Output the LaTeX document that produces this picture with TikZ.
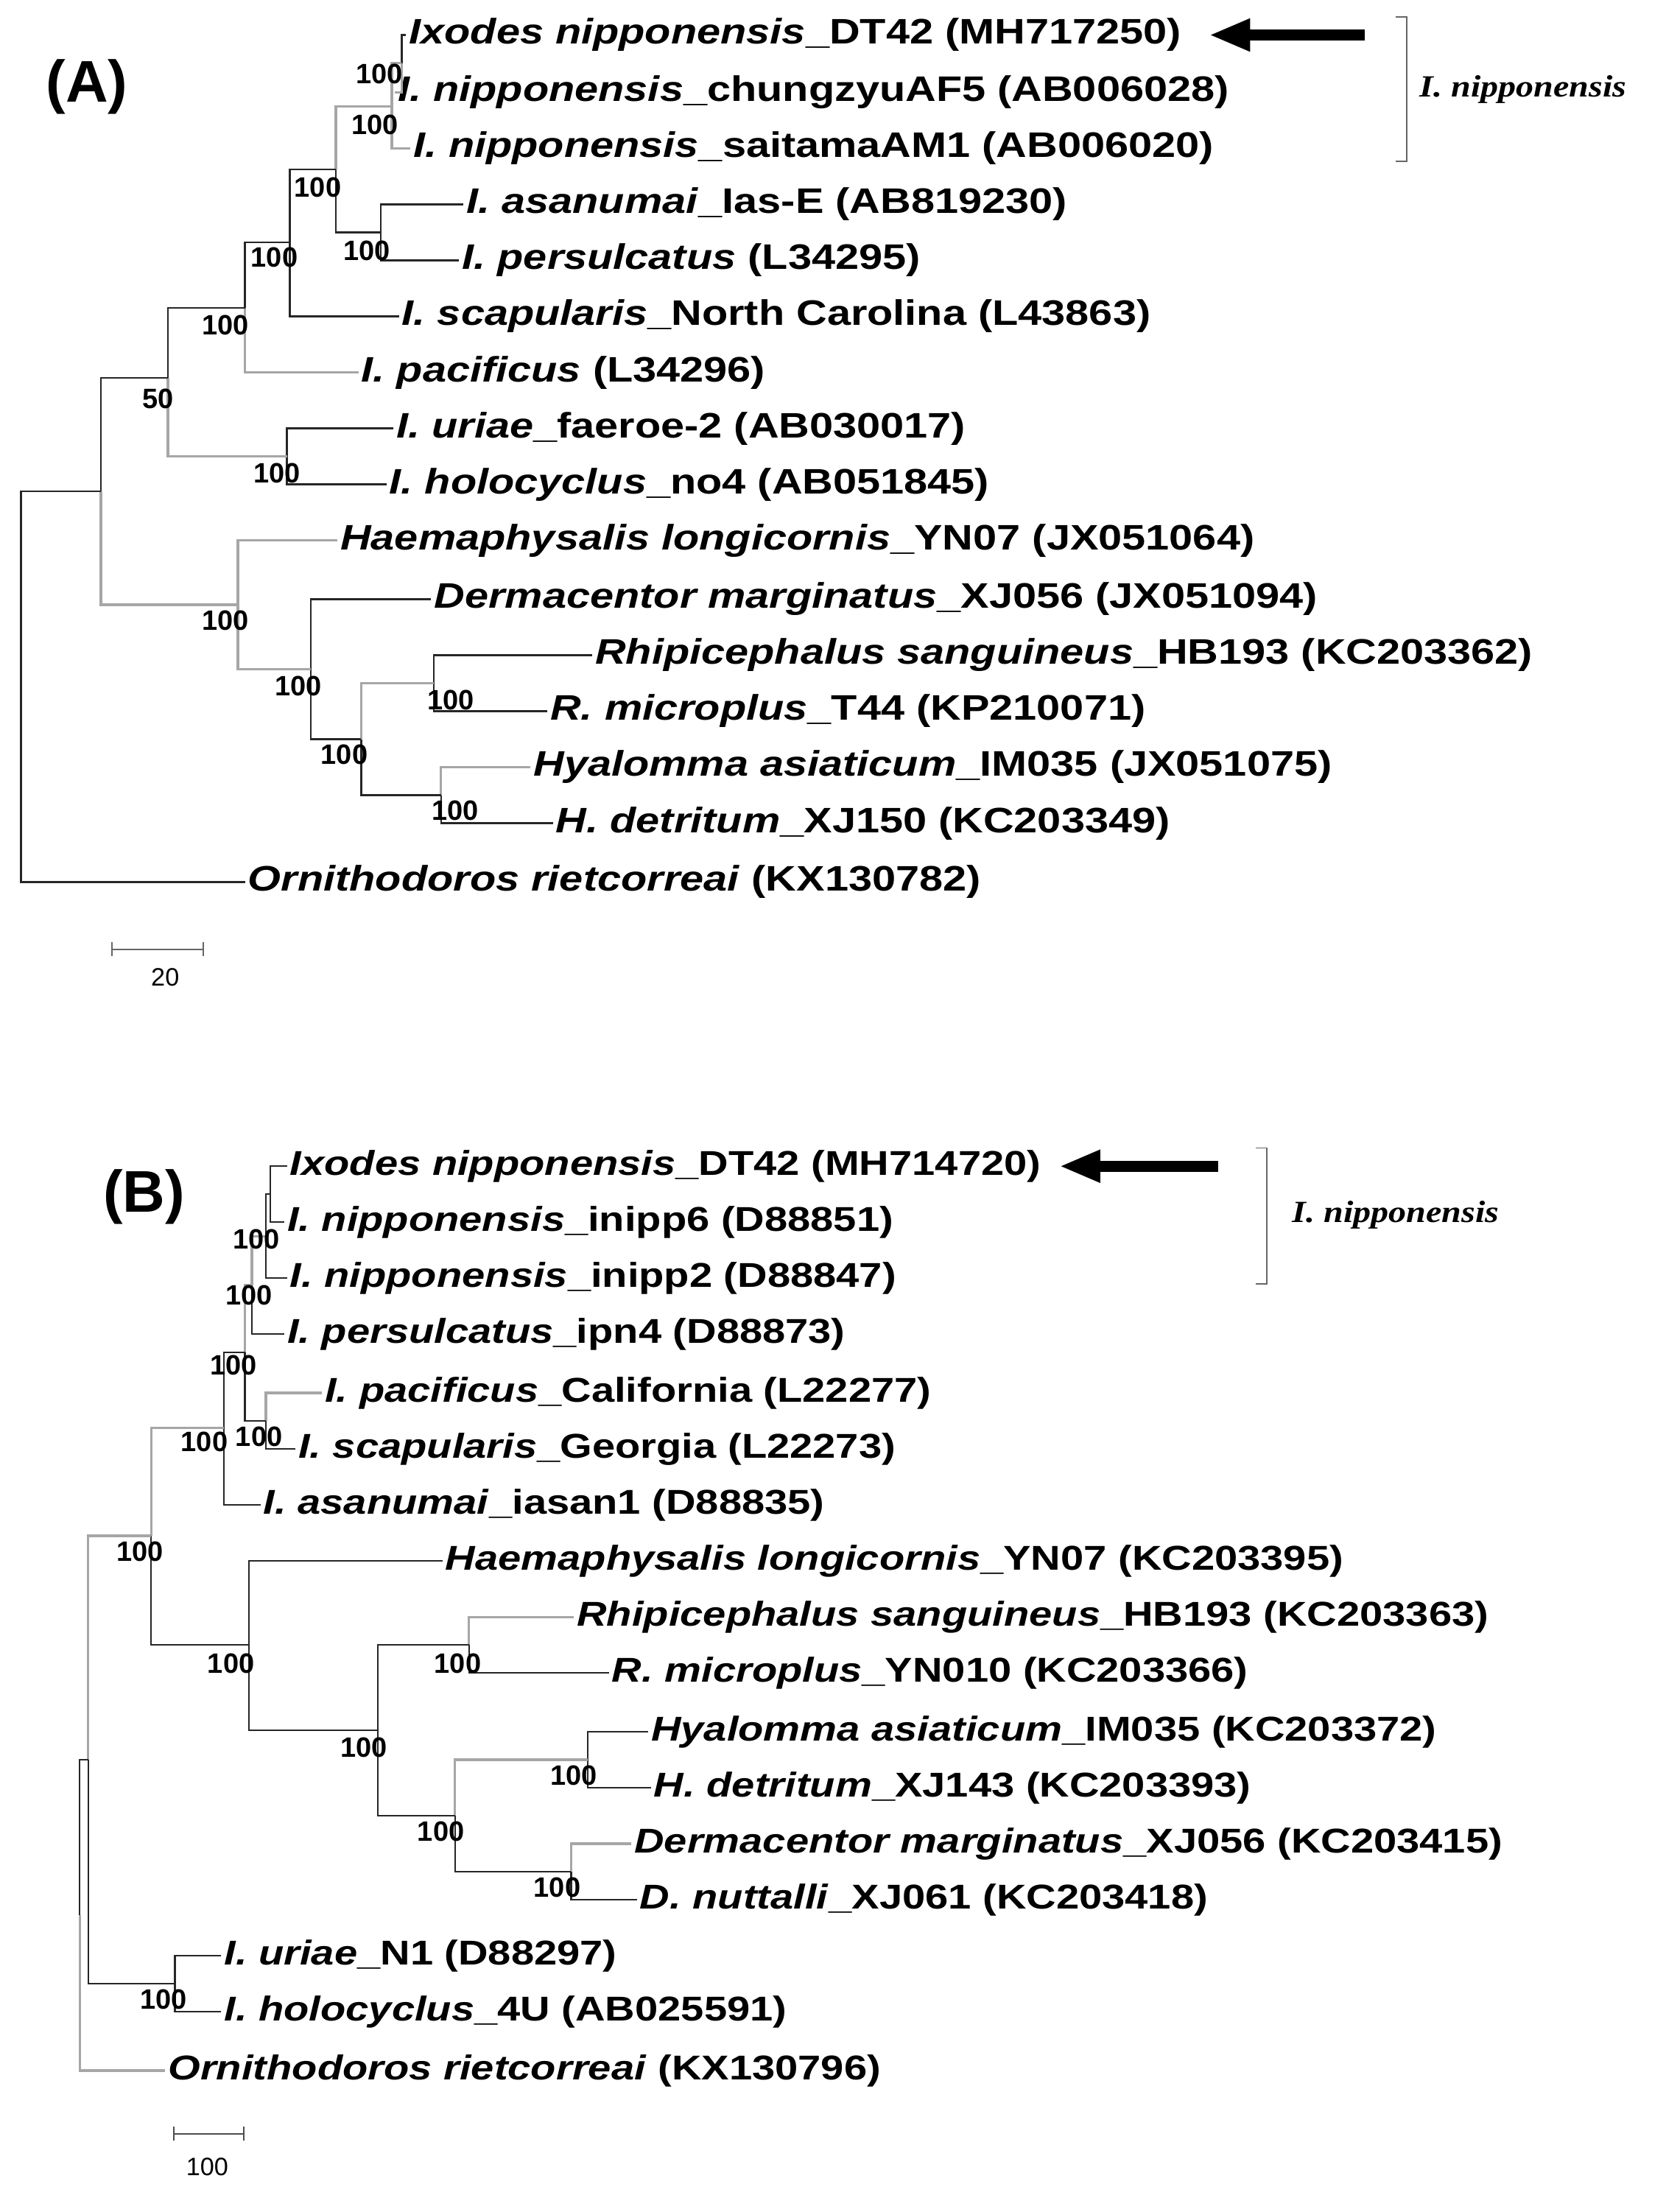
\documentclass[tikz,border=0pt]{standalone}
\usepackage{fontspec}
\setmainfont{Liberation Sans}
\newfontfamily\tipfont{Liberation Sans}[FakeStretch=1.2]
\newfontfamily\serifb{Liberation Serif}[FakeStretch=1.15]
\begin{document}
\begin{tikzpicture}[x=1pt,y=-1pt,
  tip/.style={anchor=west,inner sep=2pt,font=\tipfont\fontsize{25.3}{28}\selectfont\bfseries},
  tipb/.style={anchor=west,inner sep=2pt,font=\tipfont\fontsize{24.6}{27}\selectfont\bfseries},
  bs/.style={inner sep=0pt,font=\fontsize{20}{22}\selectfont\bfseries},
  br/.style={line width=1.2pt,black!85},
  gbr/.style={line width=1.8pt,black!35}]
\useasboundingbox (0,0) rectangle (1190,1580);
\node[font=\fontsize{42}{46}\selectfont\bfseries] (labA) at (62,62) {(A)};
% ---------- Tree A tips
\node[tip] (a1) at (290,25) {\textit{Ixodes nipponensis}\_DT42 (MH717250)};
\node[tip] (a2) at (282,66) {\textit{I. nipponensis}\_chungzyuAF5 (AB006028)};
\node[tip] (a3) at (293,106) {\textit{I. nipponensis}\_saitamaAM1 (AB006020)};
\node[tip] (a4) at (331,146) {\textit{I. asanumai}\_Ias-E (AB819230)};
\node[tip] (a5) at (328,186) {\textit{I. persulcatus} (L34295)};
\node[tip] (a6) at (285,226) {\textit{I. scapularis}\_North Carolina (L43863)};
\node[tip] (a7) at (256,266) {\textit{I. pacificus} (L34296)};
\node[tip] (a8) at (281,306) {\textit{I. uriae}\_faeroe-2 (AB030017)};
\node[tip] (a9) at (276,346) {\textit{I. holocyclus}\_no4 (AB051845)};
\node[tip] (a10) at (241,386) {\textit{Haemaphysalis longicornis}\_YN07 (JX051064)};
\node[tip] (a11) at (308,428) {\textit{Dermacentor marginatus}\_XJ056 (JX051094)};
\node[tip] (a12) at (423,468) {\textit{Rhipicephalus sanguineus}\_HB193 (KC203362)};
\node[tip] (a13) at (391,508) {\textit{R. microplus}\_T44 (KP210071)};
\node[tip] (a14) at (379,548) {\textit{Hyalomma asiaticum}\_IM035 (JX051075)};
\node[tip] (a15) at (395,588) {\textit{H. detritum}\_XJ150 (KC203349)};
\node[tip] (a16) at (175,630) {\textit{Ornithodoros rietcorreai} (KX130782)};
% internal nodes A
\coordinate (nB) at (287,45);
\coordinate (nA) at (280,76);
\coordinate (nD) at (272,166);
\coordinate (nC) at (240,121);
\coordinate (nE) at (207,173);
\coordinate (nF) at (175,220);
\coordinate (nU) at (205,326);
\coordinate (nG) at (120,270);
\coordinate (nL) at (310,488);
\coordinate (nM) at (315,568);
\coordinate (nK) at (258,528);
\coordinate (nJ) at (222,478);
\coordinate (nI) at (170,432);
\coordinate (nH) at (72,351);
\coordinate (rA) at (15,490);
\draw[br] (nB) |- (a1.west); \draw[gbr] (nB) |- (a2.west);
\draw[gbr] (nA) |- (nB); \draw[gbr] (nA) |- (a3.west);
\draw[br] (nD) |- (a4.west); \draw[br] (nD) |- (a5.west);
\draw[gbr] (nC) |- (nA); \draw[br] (nC) |- (nD);
\draw[br] (nE) |- (nC); \draw[br] (nE) |- (a6.west);
\draw[br] (nF) |- (nE); \draw[gbr] (nF) |- (a7.west);
\draw[br] (nU) |- (a8.west); \draw[br] (nU) |- (a9.west);
\draw[br] (nG) |- (nF); \draw[gbr] (nG) |- (nU);
\draw[br] (nL) |- (a12.west); \draw[br] (nL) |- (a13.west);
\draw[gbr] (nM) |- (a14.west); \draw[br] (nM) |- (a15.west);
\draw[gbr] (nK) |- (nL); \draw[br] (nK) |- (nM);
\draw[br] (nJ) |- (a11.west); \draw[br] (nJ) |- (nK);
\draw[gbr] (nI) |- (a10.west); \draw[gbr] (nI) |- (nJ);
\draw[br] (nH) |- (nG); \draw[gbr] (nH) |- (nI);
\draw[br] (rA) |- (nH); \draw[br] (rA) |- (a16.west);
% bootstrap A
\node[bs] (bA1) at (271,53) {100};
\node[bs] (bA2) at (268,89) {100};
\node[bs] (bA3) at (227,134) {100};
\node[bs] (bA4) at (262,179) {100};
\node[bs] (bA5) at (196,184) {100};
\node[bs] (bA6) at (161,232) {100};
\node[bs] (bA7) at (113,285) {50};
\node[bs] (bA8) at (198,338) {100};
\node[bs] (bA9) at (161,443) {100};
\node[bs] (bA10) at (213,490) {100};
\node[bs] (bA11) at (246,539) {100};
\node[bs] (bA12) at (322,500) {100};
\node[bs] (bA13) at (325,579) {100};
% scale A
\coordinate (sa1) at (80,678); \coordinate (sa2) at (145,678);
\draw[black!60,line width=1pt] (sa1) -- (sa2) (80,673) -- (80,683) (145,673) -- (145,683);
\node[font=\fontsize{18}{20}\selectfont] (sA) at (118,698) {20};
% arrow & bracket A
\draw[line width=8pt] (975,25) -- (888,25);
\fill (865,25) -- (893,13) -- (893,37) -- cycle;
\draw[black!60,line width=1pt] (997,12) -- (1005,12) -- (1005,115) -- (997,115);
\node[font=\serifb\fontsize{22}{24}\selectfont\bfseries\itshape] (nipA) at (1088,64) {I. nipponensis};
% ---------- Tree B
\node[font=\fontsize{42}{46}\selectfont\bfseries] (labB) at (103,855) {(B)};
\node[tipb] (b1) at (205,833) {\textit{Ixodes nipponensis}\_DT42 (MH714720)};
\node[tipb] (b2) at (203,873) {\textit{I. nipponensis}\_inipp6 (D88851)};
\node[tipb] (b3) at (205,913) {\textit{I. nipponensis}\_inipp2 (D88847)};
\node[tipb] (b4) at (203,953) {\textit{I. persulcatus}\_ipn4 (D88873)};
\node[tipb] (b5) at (230,995) {\textit{I. pacificus}\_California (L22277)};
\node[tipb] (b6) at (211,1035) {\textit{I. scapularis}\_Georgia (L22273)};
\node[tipb] (b7) at (186,1075) {\textit{I. asanumai}\_iasan1 (D88835)};
\node[tipb] (b8) at (316,1115) {\textit{Haemaphysalis longicornis}\_YN07 (KC203395)};
\node[tipb] (b9) at (410,1155) {\textit{Rhipicephalus sanguineus}\_HB193 (KC203363)};
\node[tipb] (b10) at (435,1195) {\textit{R. microplus}\_YN010 (KC203366)};
\node[tipb] (b11) at (463,1237) {\textit{Hyalomma asiaticum}\_IM035 (KC203372)};
\node[tipb] (b12) at (465,1277) {\textit{H. detritum}\_XJ143 (KC203393)};
\node[tipb] (b13) at (451,1317) {\textit{Dermacentor marginatus}\_XJ056 (KC203415)};
\node[tipb] (b14) at (455,1357) {\textit{D. nuttalli}\_XJ061 (KC203418)};
\node[tipb] (b15) at (158,1397) {\textit{I. uriae}\_N1 (D88297)};
\node[tipb] (b16) at (158,1437) {\textit{I. holocyclus}\_4U (AB025591)};
\node[tipb] (b17) at (118,1479) {\textit{Ornithodoros rietcorreai} (KX130796)};
\coordinate (m1) at (193,853);
\coordinate (m2) at (190,883);
\coordinate (m3) at (180,918);
\coordinate (m4) at (190,1015);
\coordinate (m5) at (175,966);
\coordinate (m6) at (160,1020);
\coordinate (m7) at (335,1175);
\coordinate (m8) at (420,1257);
\coordinate (m9) at (408,1337);
\coordinate (m10) at (325,1297);
\coordinate (m11) at (270,1236);
\coordinate (m12) at (178,1175);
\coordinate (m13) at (108,1097);
\coordinate (m14) at (125,1417);
\coordinate (m15) at (63,1257);
\coordinate (rB) at (57,1368);
\draw[br] (m1) |- (b1.west); \draw[br] (m1) |- (b2.west);
\draw[br] (m2) |- (m1); \draw[br] (m2) |- (b3.west);
\draw[gbr] (m3) |- (m2); \draw[br] (m3) |- (b4.west);
\draw[gbr] (m4) |- (b5.west); \draw[br] (m4) |- (b6.west);
\draw[gbr] (m5) |- (m3); \draw[br] (m5) |- (m4);
\draw[br] (m6) |- (m5); \draw[br] (m6) |- (b7.west);
\draw[gbr] (m7) |- (b9.west); \draw[br] (m7) |- (b10.west);
\draw[br] (m8) |- (b11.west); \draw[br] (m8) |- (b12.west);
\draw[gbr] (m9) |- (b13.west); \draw[br] (m9) |- (b14.west);
\draw[gbr] (m10) |- (m8); \draw[br] (m10) |- (m9);
\draw[br] (m11) |- (m7); \draw[br] (m11) |- (m10);
\draw[br] (m12) |- (b8.west); \draw[br] (m12) |- (m11);
\draw[gbr] (m13) |- (m6); \draw[br] (m13) |- (m12);
\draw[br] (m14) |- (b15.west); \draw[br] (m14) |- (b16.west);
\draw[gbr] (m15) |- (m13); \draw[br] (m15) |- (m14);
\draw[br] (rB) |- (m15); \draw[gbr] (rB) |- (b17.west);
\node[bs] (bB1) at (183,885) {100};
\node[bs] (bB2) at (178,925) {100};
\node[bs] (bB3) at (167,975) {100};
\node[bs] (bB4) at (146,1030) {100};
\node[bs] (bB5) at (185,1026) {100};
\node[bs] (bB6) at (100,1108) {100};
\node[bs] (bB7) at (165,1188) {100};
\node[bs] (bB8) at (260,1248) {100};
\node[bs] (bB9) at (315,1308) {100};
\node[bs] (bB10) at (327,1188) {100};
\node[bs] (bB11) at (410,1268) {100};
\node[bs] (bB12) at (398,1348) {100};
\node[bs] (bB13) at (117,1428) {100};
\draw[black!70,line width=1pt] (124,1524) -- (174,1524) (124,1519) -- (124,1529) (174,1519) -- (174,1529);
\node[font=\fontsize{18}{20}\selectfont] (sB) at (148,1548) {100};
\draw[line width=8pt] (870,833) -- (781,833);
\fill (758,833) -- (786,821) -- (786,845) -- cycle;
\draw[black!60,line width=1pt] (897,820) -- (905,820) -- (905,917) -- (897,917);
\node[font=\serifb\fontsize{22}{24}\selectfont\bfseries\itshape] (nipB) at (997,868) {I. nipponensis};
\end{tikzpicture}
\end{document}
